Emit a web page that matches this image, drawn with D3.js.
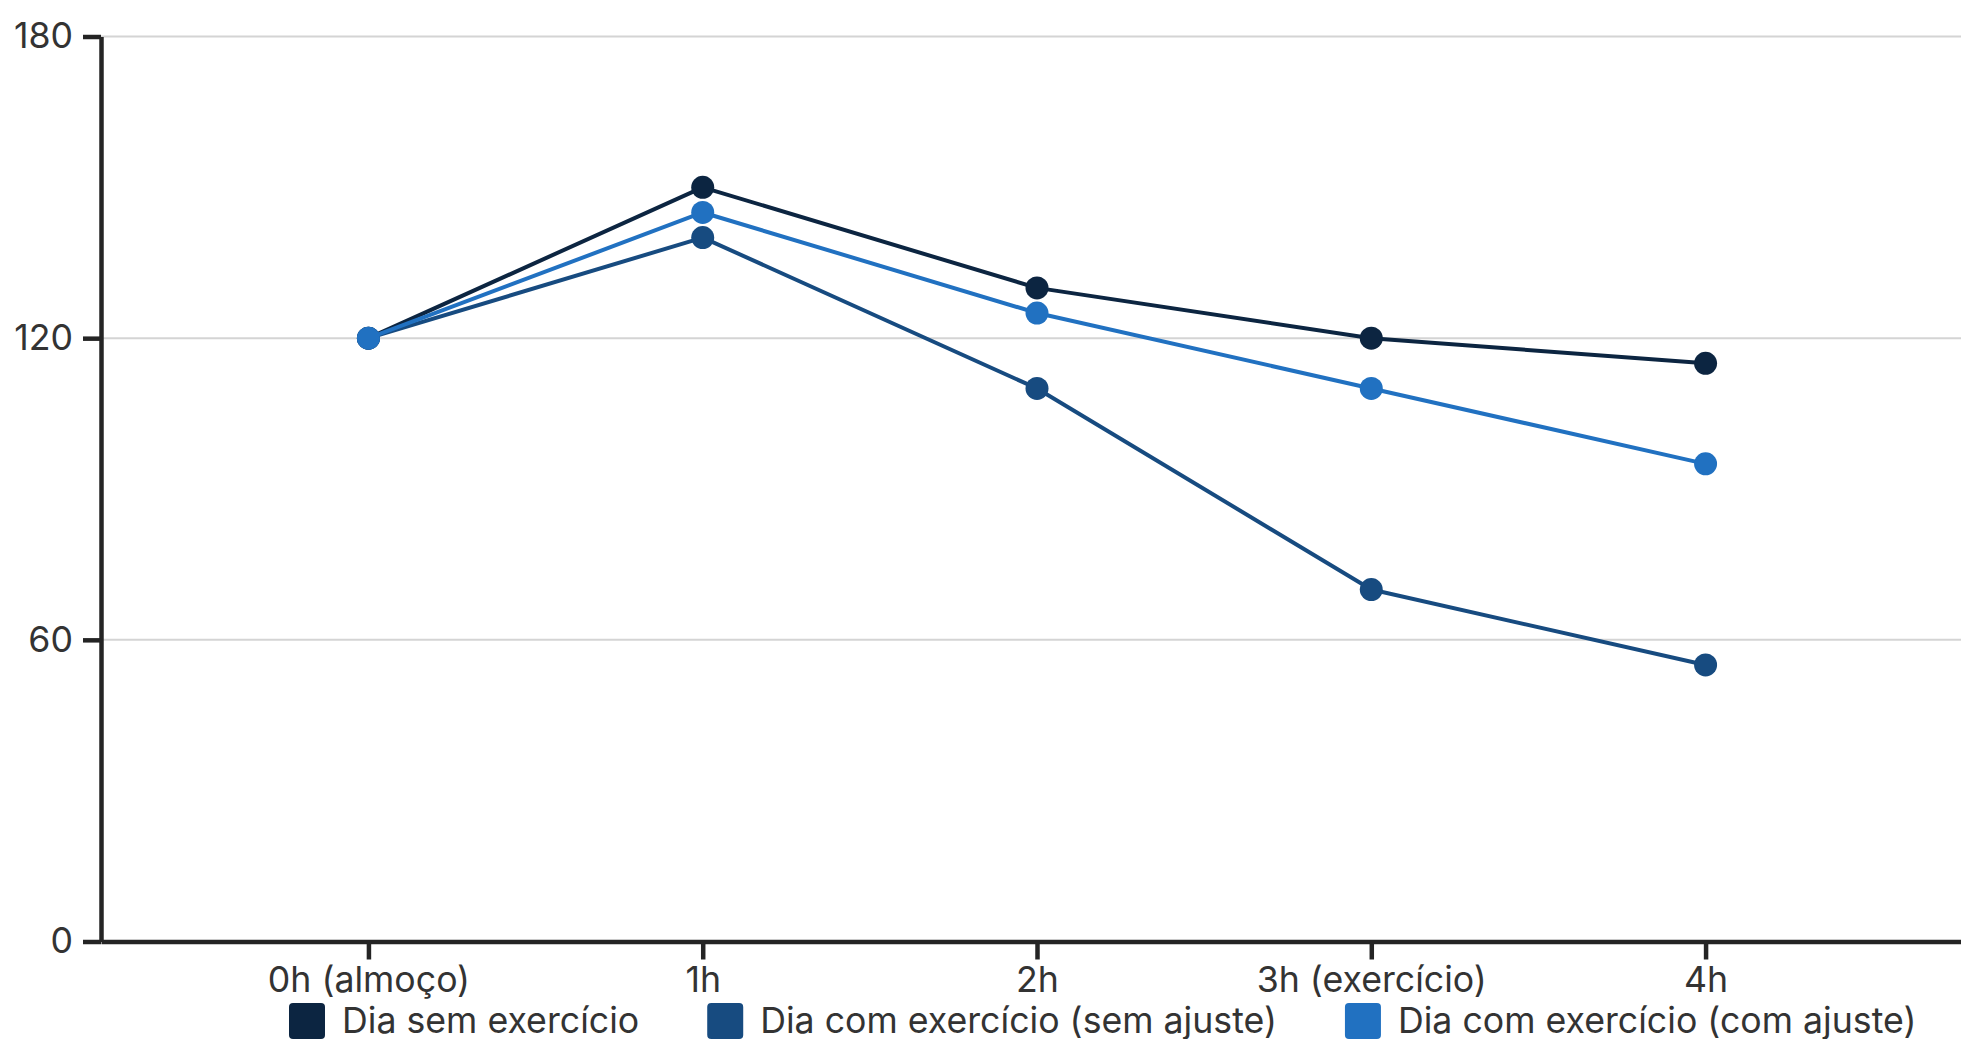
<!DOCTYPE html>
<html lang="pt">
<head>
<meta charset="utf-8">
<script src="https://cdn.jsdelivr.net/npm/d3@7"></script>
<style>
  html, body { margin: 0; padding: 0; background: #fff; overflow: hidden; }
  svg { display: block; font-family: Inter, "Noto Sans", sans-serif; }
</style>
</head>
<body>
<svg id="chart" width="1961" height="1039"></svg>
<script>
// Glicemia ao longo de 4 horas após o almoço
const categories = ["0h (almoço)", "1h", "2h", "3h (exercício)", "4h"];
const seriesNames = ["Dia sem exercício", "Dia com exercício (sem ajuste)", "Dia com exercício (com ajuste)"];
const semExercicio = [120, 150, 130, 120, 115];
const comExercicioSemAjuste = [120, 140, 110, 70, 55];
const comExercicioComAjuste = [120, 145, 125, 110, 95];
const yTicks = [0, 60, 120, 180];
const colors = ["#0c2541", "#174b80", "#2171c1"];

const seriesValues = [semExercicio, comExercicioSemAjuste, comExercicioComAjuste];

const W = 1961;
const plot = { left: 101, right: 1973, top: 36.5, bottom: 941.5 };

const svg = d3.select("#chart");

const x = d3.scalePoint().domain(categories).range([plot.left, plot.right]).padding(0.8);
const y = d3.scaleLinear().domain([0, 180]).range([plot.bottom, plot.top]);

// horizontal grid
svg.append("g")
  .selectAll("line")
  .data(yTicks.filter(d => d > 0))
  .join("line")
  .attr("x1", plot.left).attr("x2", W)
  .attr("y1", d => y(d)).attr("y2", d => y(d))
  .attr("stroke", "#d4d4d4").attr("stroke-width", 2);

// axes
const axisColor = "#242424";
const textColor = "#333";
const fontSize = 35.7;

const xAxis = svg.append("g")
  .attr("transform", `translate(0,${plot.bottom})`)
  .call(d3.axisBottom(x).tickSize(18).tickSizeOuter(0).tickPadding(7));
xAxis.select(".domain").attr("stroke", axisColor).attr("stroke-width", 4.5);
xAxis.selectAll(".tick line").attr("stroke", axisColor).attr("stroke-width", 4.5);
xAxis.selectAll(".tick text").attr("fill", textColor).attr("font-size", fontSize).attr("font-family", "Inter");

const yAxis = svg.append("g")
  .attr("transform", `translate(${plot.left},0)`)
  .call(d3.axisLeft(y).tickValues(yTicks).tickSize(18).tickSizeOuter(0).tickPadding(10));
yAxis.select(".domain").attr("stroke", axisColor).attr("stroke-width", 4.5);
yAxis.selectAll(".tick line").attr("stroke", axisColor).attr("stroke-width", 4.5);
yAxis.selectAll(".tick text").attr("fill", textColor).attr("font-size", fontSize).attr("font-family", "Inter");

// lines and markers
const line = d3.line().x((d, i) => x(categories[i])).y(d => y(d));

seriesValues.forEach((vals, s) => {
  const g = svg.append("g");
  g.append("path")
    .datum(vals)
    .attr("d", line)
    .attr("fill", "none")
    .attr("stroke", colors[s])
    .attr("stroke-width", 4)
    .attr("stroke-linejoin", "round");
  g.selectAll("circle")
    .data(vals)
    .join("circle")
    .attr("cx", (d, i) => x(categories[i]))
    .attr("cy", d => y(d))
    .attr("r", 11.5)
    .attr("fill", colors[s]);
});

// legend
const legend = svg.append("g").attr("transform", "translate(289,1003)");
let cursor = 0;
seriesNames.forEach((name, i) => {
  const item = legend.append("g").attr("transform", `translate(${cursor},0)`);
  item.append("rect")
    .attr("width", 36).attr("height", 36).attr("rx", 4)
    .attr("fill", colors[i]);
  const t = item.append("text")
    .attr("x", 53).attr("y", 30)
    .attr("font-size", fontSize).attr("font-family", "Inter")
    .attr("fill", textColor)
    .text(name);
  cursor += 53 + t.node().getComputedTextLength() + 68;
});
</script>
</body>
</html>
